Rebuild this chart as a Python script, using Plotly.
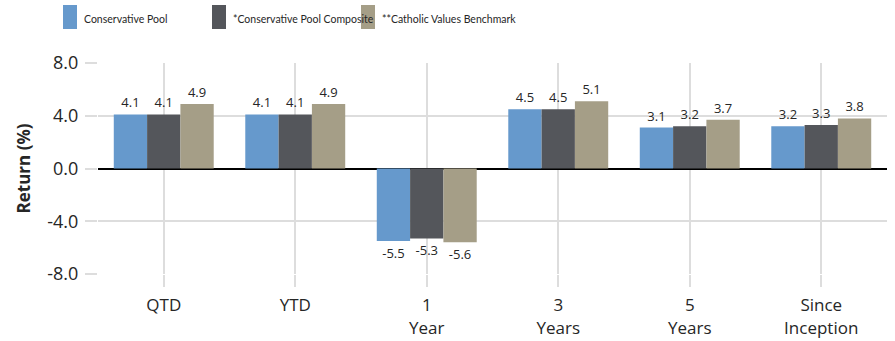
import plotly.graph_objects as go

# Period labels (two-line ticks) and returns in percent
categories = ["QTD", "YTD", "1<br>Year", "3<br>Years", "5<br>Years", "Since<br>Inception"]
series_names = ["Conservative Pool", "*Conservative Pool Composite", "**Catholic Values Benchmark"]
conservative_pool = [4.1, 4.1, -5.5, 4.5, 3.1, 3.2]
pool_composite = [4.1, 4.1, -5.3, 4.5, 3.2, 3.3]
values_benchmark = [4.9, 4.9, -5.6, 5.1, 3.7, 3.8]
y_ticks = [-8, -4, 0, 4, 8]
y_tick_labels = ["-8.0", "-4.0", "0.0", "4.0", "8.0"]

colors = ["#6699CC", "#54565B", "#A59E87"]
FONT = "Open Sans, sans-serif"
LEGEND_FONT = "Lato, sans-serif"
TEXT = "#262626"
W, H = 895, 341
M_L, M_R, M_T, M_B = 98, 8, 63, 67

fig = go.Figure()
for name, vals, col in zip(series_names, [conservative_pool, pool_composite, values_benchmark], colors):
    fig.add_trace(go.Bar(
        x=categories, y=vals, name=name,
        marker=dict(color=col, line=dict(width=0)),
        text=[f"{v:.1f}" for v in vals],
        textposition="outside",
        outsidetextfont=dict(family=FONT, size=13, color=TEXT),
        constraintext="none",
        cliponaxis=False,
        showlegend=False,
    ))

# Legend: tall colour swatches with labels beside them, laid out in pixels
plot_w = W - M_L - M_R
plot_h = H - M_T - M_B


def px_x(px):
    return (px - M_L) / plot_w


def px_y(py):
    return (H - M_B - py) / plot_h


swatch_left = [63, 212, 361]
for left, name, col in zip(swatch_left, series_names, colors):
    fig.add_shape(type="rect", xref="paper", yref="paper",
                  x0=px_x(left), x1=px_x(left + 14), y0=px_y(29), y1=px_y(5),
                  fillcolor=col, line=dict(width=0))
    fig.add_annotation(xref="paper", yref="paper", x=px_x(left + 19), y=px_y(19.5),
                       xanchor="left", yanchor="middle", showarrow=False,
                       text=name, font=dict(family=LEGEND_FONT, size=10.5, color=TEXT))

fig.update_layout(
    width=W, height=H,
    margin=dict(l=M_L, r=M_R, t=M_T, b=M_B),
    paper_bgcolor="white", plot_bgcolor="white",
    barmode="group", bargap=0.24, bargroupgap=0,
    font=dict(family=FONT, color=TEXT),
    xaxis=dict(
        automargin=False,
        showgrid=True, gridcolor="#DDDDDD", gridwidth=1.5,
        ticks="outside", ticklen=12, tickcolor="#DDDDDD", tickwidth=1.5,
        tickfont=dict(family=FONT, size=17, color=TEXT),
        ticklabelstandoff=4,
        showline=False,
    ),
    yaxis=dict(
        automargin=False,
        range=[-8, 8], tickvals=y_ticks, ticktext=y_tick_labels,
        showgrid=True, gridcolor="#DDDDDD", gridwidth=1.5,
        zeroline=True, zerolinecolor="#000000", zerolinewidth=1.5,
        ticks="outside", ticklen=12, tickcolor="#DDDDDD", tickwidth=1.5,
        tickfont=dict(family=FONT, size=18, color=TEXT),
        ticklabelstandoff=3,
        title=dict(text="<b>Return (%)</b>", font=dict(family=FONT, size=17, color=TEXT), standoff=12),
        showline=False,
    ),
)

fig.write_html("out.html")
